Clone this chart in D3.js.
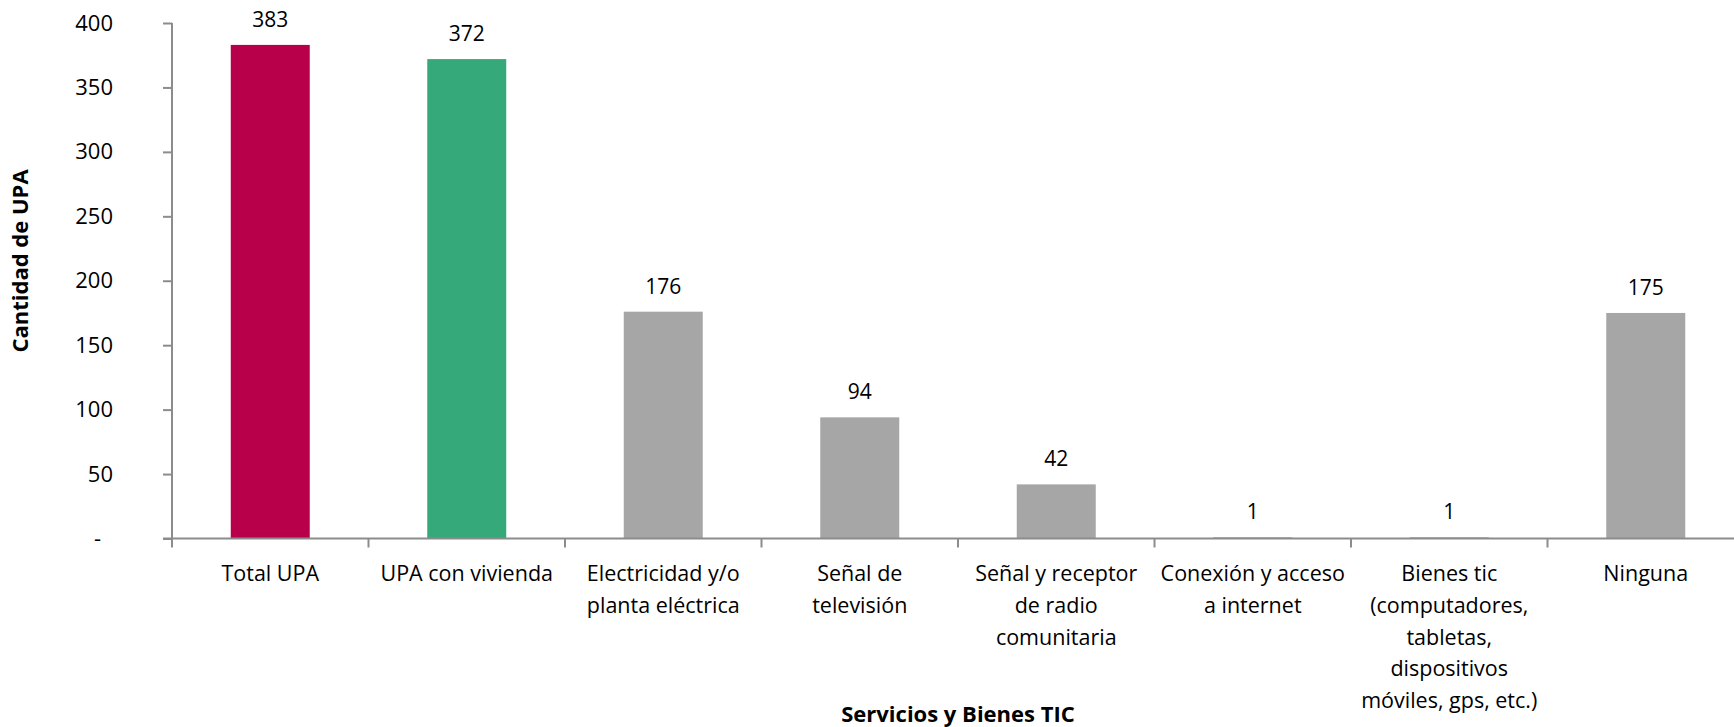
<!DOCTYPE html>
<html>
<head>
<meta charset="utf-8">
<script src="https://cdn.jsdelivr.net/npm/d3@7"></script>
<style>
  html, body { margin: 0; padding: 0; background: #fff; }
  svg { display: block; font-family: "Open Sans", "Noto Sans", sans-serif; }
</style>
</head>
<body>
<svg id="chart" width="1734" height="727"></svg>
<script>
const categories = [
  ["Total UPA"],
  ["UPA con vivienda"],
  ["Electricidad y/o", "planta eléctrica"],
  ["Señal de", "televisión"],
  ["Señal y receptor", "de radio", "comunitaria"],
  ["Conexión y acceso", "a internet"],
  ["Bienes tic", "(computadores,", "tabletas,", "dispositivos", "móviles, gps, etc.)"],
  ["Ninguna"]
];
const values = [383, 372, 176, 94, 42, 1, 1, 175];
const barColors = ["#B8004A", "#36A97A", "#A6A6A6", "#A6A6A6", "#A6A6A6", "#A6A6A6", "#A6A6A6", "#A6A6A6"];
const yTicks = [0, 50, 100, 150, 200, 250, 300, 350, 400];
const yTickLabels = ["-", "50", "100", "150", "200", "250", "300", "350", "400"];
const yTitle = "Cantidad de UPA";
const xTitle = "Servicios y Bienes TIC";

(function () {
const svg = d3.select("#chart");
const pLeft = 172, pRight = 1744, pTop = 23, pBottom = 538.5;
const ids = categories.map((c, i) => i);

const x = d3.scaleBand().domain(ids).range([pLeft, pRight]).paddingInner(0.598).paddingOuter(0.299);
const xb = d3.scaleBand().domain(ids).range([pLeft, pRight]).padding(0);
const y = d3.scaleLinear().domain([0, 400]).range([pBottom, pTop]);
const axisColor = "#8C8C8C";

// bars
svg.append("g").selectAll("rect").data(values).join("rect")
  .attr("x", (d, i) => x(i))
  .attr("y", d => y(d))
  .attr("width", x.bandwidth())
  .attr("height", d => pBottom - y(d))
  .attr("fill", (d, i) => barColors[i]);

// value labels
svg.append("g").selectAll("text").data(values).join("text")
  .attr("x", (d, i) => x(i) + x.bandwidth() / 2)
  .attr("y", d => y(d) - 18)
  .attr("text-anchor", "middle")
  .attr("font-size", 21)
  .attr("fill", "#000")
  .text(d => d);

// y axis
const yAxis = d3.axisLeft(y).tickValues(yTicks).tickSize(9).tickPadding(50)
  .tickFormat((d, i) => yTickLabels[i]);
const gy = svg.append("g").attr("transform", `translate(${pLeft},0)`).call(yAxis);
gy.select(".domain").attr("stroke", axisColor).attr("stroke-width", 2).attr("d", `M0,${pTop}V${pBottom}`);
gy.selectAll(".tick line").attr("stroke", axisColor).attr("stroke-width", 2);
gy.selectAll(".tick text").attr("font-size", 22).attr("fill", "#000")
  .attr("font-family", "'Open Sans', 'Noto Sans', sans-serif")
  .attr("dx", d => d === 0 ? -12 : 0);

// x axis line and boundary ticks
const gx = svg.append("g");
gx.append("line").attr("x1", pLeft - 9).attr("x2", 1734).attr("y1", pBottom).attr("y2", pBottom)
  .attr("stroke", axisColor).attr("stroke-width", 2);
gx.selectAll("line.bt").data(ids).join("line").attr("class", "bt")
  .attr("x1", d => xb(d)).attr("x2", d => xb(d))
  .attr("y1", pBottom).attr("y2", pBottom + 9)
  .attr("stroke", axisColor).attr("stroke-width", 2);

// category labels
const labels = svg.append("g").selectAll("text").data(categories).join("text")
  .attr("text-anchor", "middle")
  .attr("font-size", 21.5)
  .attr("fill", "#000");
labels.each(function(lines, i) {
  d3.select(this).selectAll("tspan").data(lines).join("tspan")
    .attr("x", x(i) + x.bandwidth() / 2)
    .attr("y", (l, j) => 581 + j * 31.8)
    .text(l => l);
});

// titles
svg.append("text")
  .attr("transform", "translate(28,261) rotate(-90)")
  .attr("text-anchor", "middle")
  .attr("font-size", 22).attr("font-weight", "bold").attr("fill", "#000")
  .text(yTitle);
svg.append("text")
  .attr("x", (pLeft + pRight) / 2).attr("y", 722)
  .attr("text-anchor", "middle")
  .attr("font-size", 22).attr("font-weight", "bold").attr("fill", "#000")
  .text(xTitle);
})();
</script>
</body>
</html>
